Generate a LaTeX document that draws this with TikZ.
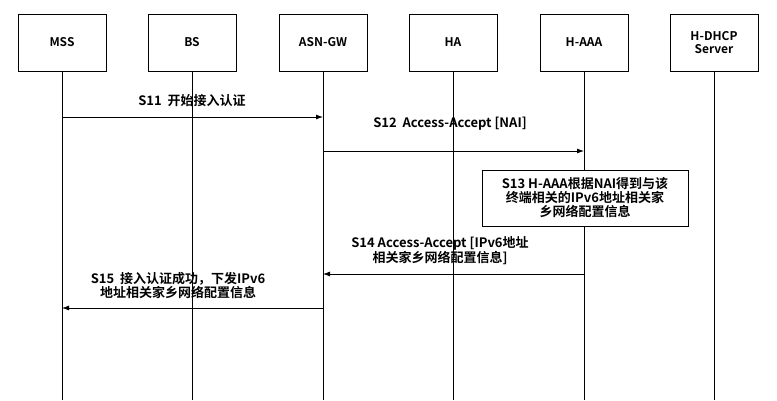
\documentclass[tikz,border=0pt]{standalone}
\usepackage{fontspec}
\setmainfont{Noto Sans CJK SC}[BoldFont={Noto Sans CJK SC Bold}]
\usetikzlibrary{arrows.meta}
\begin{document}
\begin{tikzpicture}[x=1pt,y=-1pt,
  ent/.style={draw,line width=0.8pt,minimum width=88pt,minimum height=57pt,font=\fontsize{12}{13}\selectfont\bfseries,align=center},
  life/.style={line width=0.8pt},
  msg/.style={line width=0.8pt,-{Latex[length=7pt,width=5pt]}},
  lbl/.style={font=\fontsize{13}{14}\selectfont\bfseries,align=center,inner sep=1pt}]
\useasboundingbox (0,0) rectangle (777,400);
\node[ent] (mss) at (62,42.5) {MSS};
\node[ent] (bs) at (192,42.5) {BS};
\node[ent] (gw) at (323,42.5) {ASN-GW};
\node[ent] (ha) at (453,42.5) {HA};
\node[ent] (aaa) at (584,42.5) {H-AAA};
\node[ent] (dhcp) at (714,42.5) {H-DHCP\\Server};
\foreach \n in {mss,bs,gw,ha,aaa,dhcp} {\coordinate (\n e) at (\n.south |- 0,400);}
\node[lbl] (l11) at (192,101) {S11\ \ 开始接入认证};
\node[lbl] (l12) at (450,124) {S12\ \ Access-Accept [NAI]};
\node[draw,line width=0.8pt,fill=white,minimum width=206pt,minimum height=56pt,lbl] (s13) at (585,198) {S13\ H-AAA根据NAI得到与该\\终端相关的IPv6地址相关家\\乡网络配置信息};
\node[lbl] (l14) at (440,251) {S14\ Access-Accept [IPv6地址\\相关家乡网络配置信息]};
\node[lbl] (l15) at (178,286) {S15\ \ 接入认证成功，下发IPv6\\地址相关家乡网络配置信息};
\foreach \n in {mss,bs,gw,ha,dhcp} {\draw[life] (\n.south) -- (\n e);}
\draw[life] (aaa.south) -- (s13.north -| aaa);
\draw[life] (s13.south -| aaa) -- (aaae);
\coordinate (a11) at (mss |- 0,117); \coordinate (b11) at (gw |- 0,117);
\draw[msg] (a11) -- (b11);
\coordinate (a12) at (gw |- 0,151); \coordinate (b12) at (aaa |- 0,151);
\draw[msg] (a12) -- (b12);
\coordinate (a14) at (aaa |- 0,274); \coordinate (b14) at (gw |- 0,274);
\draw[msg] (a14) -- (b14);
\coordinate (a15) at (gw |- 0,308); \coordinate (b15) at (mss |- 0,308);
\draw[msg] (a15) -- (b15);
\end{tikzpicture}
\end{document}
